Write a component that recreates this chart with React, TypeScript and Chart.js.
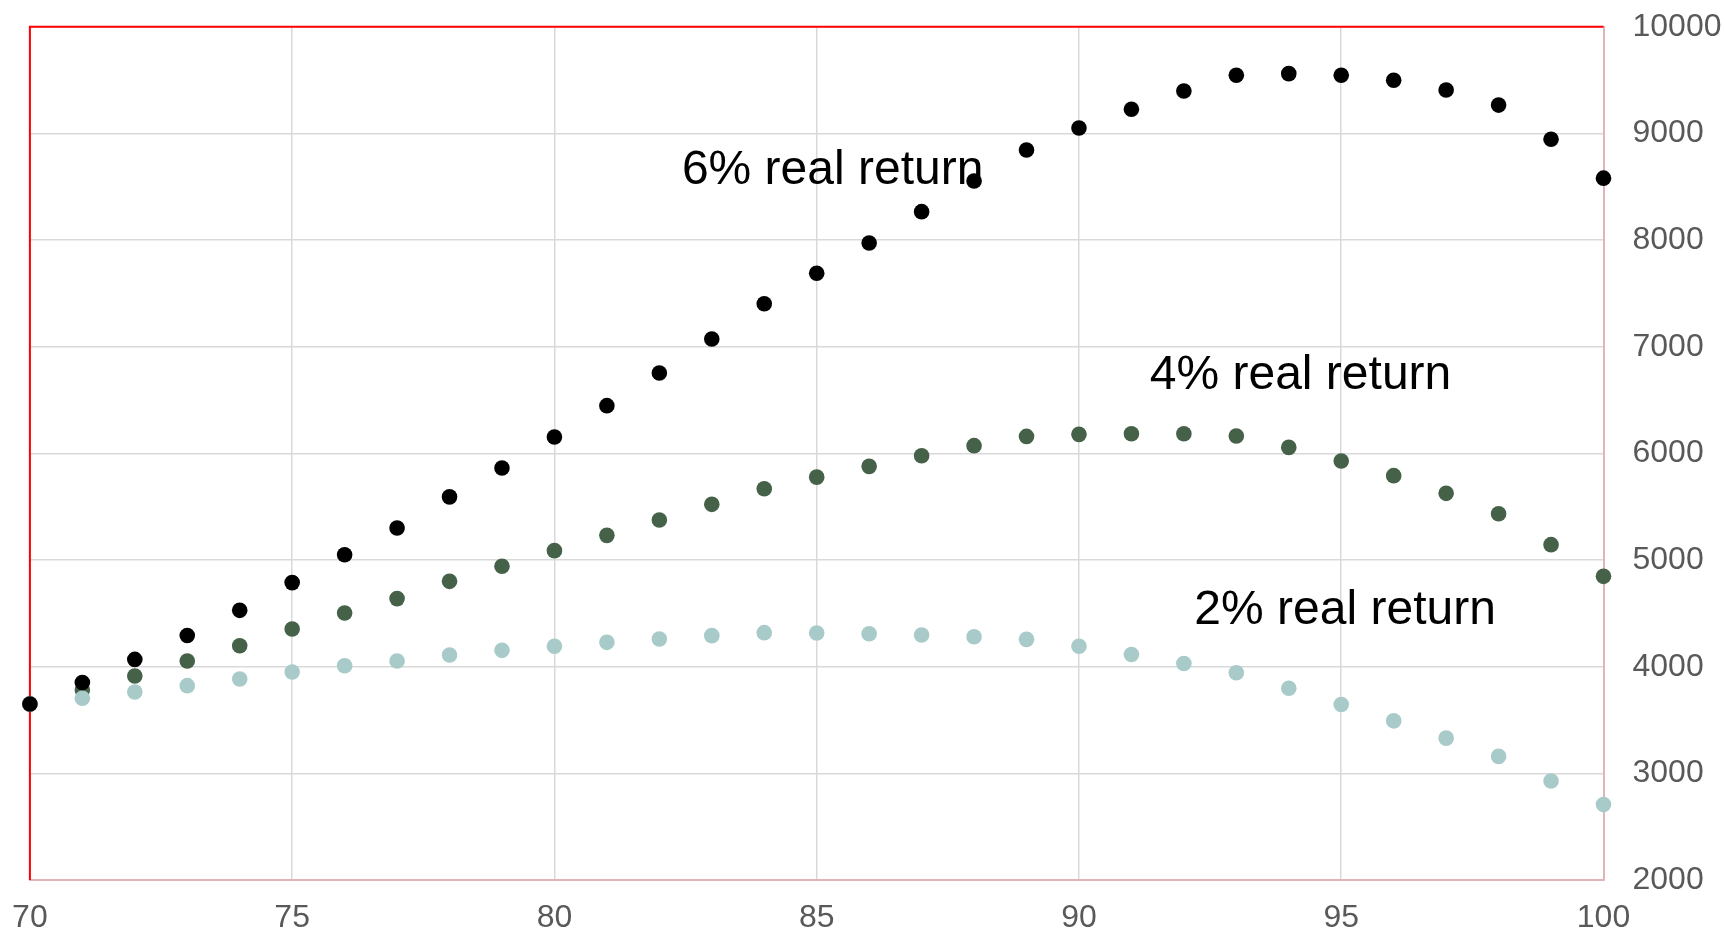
import React, { useEffect, useRef } from 'react';
import { Chart, registerables } from 'chart.js';

Chart.register(...registerables);

const ages = [70, 71, 72, 73, 74, 75, 76, 77, 78, 79, 80, 81, 82, 83, 84, 85, 86, 87, 88, 89, 90, 91, 92, 93, 94, 95, 96, 97, 98, 99, 100];
const real6 = [3650, 3852, 4068, 4292, 4528, 4788, 5050, 5300, 5592, 5863, 6153, 6447, 6753, 7072, 7403, 7688, 7972, 8266, 8553, 8844, 9050, 9226, 9397, 9545, 9560, 9545, 9498, 9406, 9265, 8945, 8580];
const real4 = [3650, 3782, 3913, 4053, 4196, 4353, 4503, 4638, 4800, 4941, 5088, 5231, 5375, 5522, 5668, 5777, 5878, 5978, 6072, 6159, 6178, 6184, 6184, 6163, 6056, 5928, 5791, 5625, 5434, 5144, 4847];
const real2 = [3650, 3704, 3763, 3822, 3885, 3950, 4009, 4053, 4109, 4153, 4191, 4228, 4259, 4291, 4319, 4316, 4309, 4297, 4280, 4256, 4191, 4114, 4030, 3943, 3798, 3645, 3492, 3330, 3159, 2928, 2707];

const xMin = 70;
const xMax = 100;
const xStep = 5;
const yMin = 2000;
const yMax = 10000;
const yStep = 1000;

const labelTexts = ['6% real return', '4% real return', '2% real return'];
const labelX = [82.43, 91.35, 92.2];
const labelY = [8522, 6607, 4402];

const FONT = '"Liberation Sans", Arial, sans-serif';

export default function App() {
  const ref = useRef<HTMLCanvasElement | null>(null);

  useEffect(() => {
    const canvas = ref.current;
    if (!canvas) return;

    const labelsPlugin = {
      id: 'seriesLabels',
      beforeDatasetsDraw(chart: any) {
        const { ctx, chartArea, scales } = chart;
        ctx.save();
        ctx.strokeStyle = '#ff0000';
        ctx.lineWidth = 2;
        ctx.beginPath();
        ctx.moveTo(chartArea.left, chartArea.bottom);
        ctx.lineTo(chartArea.left, chartArea.top);
        ctx.lineTo(chartArea.right, chartArea.top);
        ctx.stroke();
        ctx.fillStyle = '#000000';
        ctx.font = `48px ${FONT}`;
        ctx.textAlign = 'left';
        ctx.textBaseline = 'alphabetic';
        labelTexts.forEach((t, i) => {
          const x = scales.x.getPixelForValue(labelX[i]);
          const y = scales.y.getPixelForValue(labelY[i]);
          ctx.fillText(t, x, y);
        });
        ctx.restore();
      },
    };

    const mk = (arr: number[]) => ages.map((a, i) => ({ x: a, y: arr[i] }));

    const noOverhang = (s: any) => {
      s.paddingLeft = 0;
      s.paddingRight = 0;
      s.paddingTop = 0;
      s.paddingBottom = 0;
    };

    const R = 7.8;

    const chart = new Chart(canvas, {
      type: 'scatter',
      data: {
        datasets: [
          { label: '6% real return', data: mk(real6), backgroundColor: '#000000', borderWidth: 0, pointRadius: R, order: 0, clip: false },
          { label: '2% real return', data: mk(real2), backgroundColor: '#a8cbc9', borderWidth: 0, pointRadius: R, order: 1, clip: false },
          { label: '4% real return', data: mk(real4), backgroundColor: '#456148', borderWidth: 0, pointRadius: R, order: 2, clip: false },
        ],
      },
      options: {
        animation: false,
        responsive: false,
        devicePixelRatio: 1,
        layout: { padding: { left: 29.9, top: 26.7, right: 0, bottom: 0 } },
        plugins: { legend: { display: false }, tooltip: { enabled: false } },
        scales: {
          x: {
            type: 'linear',
            min: xMin,
            max: xMax,
            afterFit: (s: any) => { s.height = 52; noOverhang(s); },
            ticks: {
              stepSize: xStep,
              color: '#595959',
              font: { family: FONT, size: 32, lineHeight: 0.9 },
              padding: 23.5,
              maxRotation: 0,
              callback: (v: any) => String(v),
            },
            grid: { color: '#d9d9d9', lineWidth: 1.5, drawTicks: false },
            border: { color: '#e0b4b8', width: 2 },
          },
          y: {
            type: 'linear',
            position: 'right',
            min: yMin,
            max: yMax,
            afterFit: (s: any) => { s.width = 121.5; noOverhang(s); },
            ticks: {
              stepSize: yStep,
              color: '#595959',
              font: { family: FONT, size: 32 },
              padding: 29,
              callback: (v: any) => String(v),
            },
            grid: { color: '#d9d9d9', lineWidth: 1.5, drawTicks: false },
            border: { color: '#e0b4b8', width: 2 },
          },
        },
      },
      plugins: [labelsPlugin],
    } as any);

    return () => chart.destroy();
  }, []);

  return (
    <div style={{ position: 'absolute', left: 0, top: 0, width: 1725, height: 932, background: '#ffffff' }}>
      <canvas ref={ref} width={1725} height={932} style={{ display: 'block', width: 1725, height: 932 }} />
    </div>
  );
}
